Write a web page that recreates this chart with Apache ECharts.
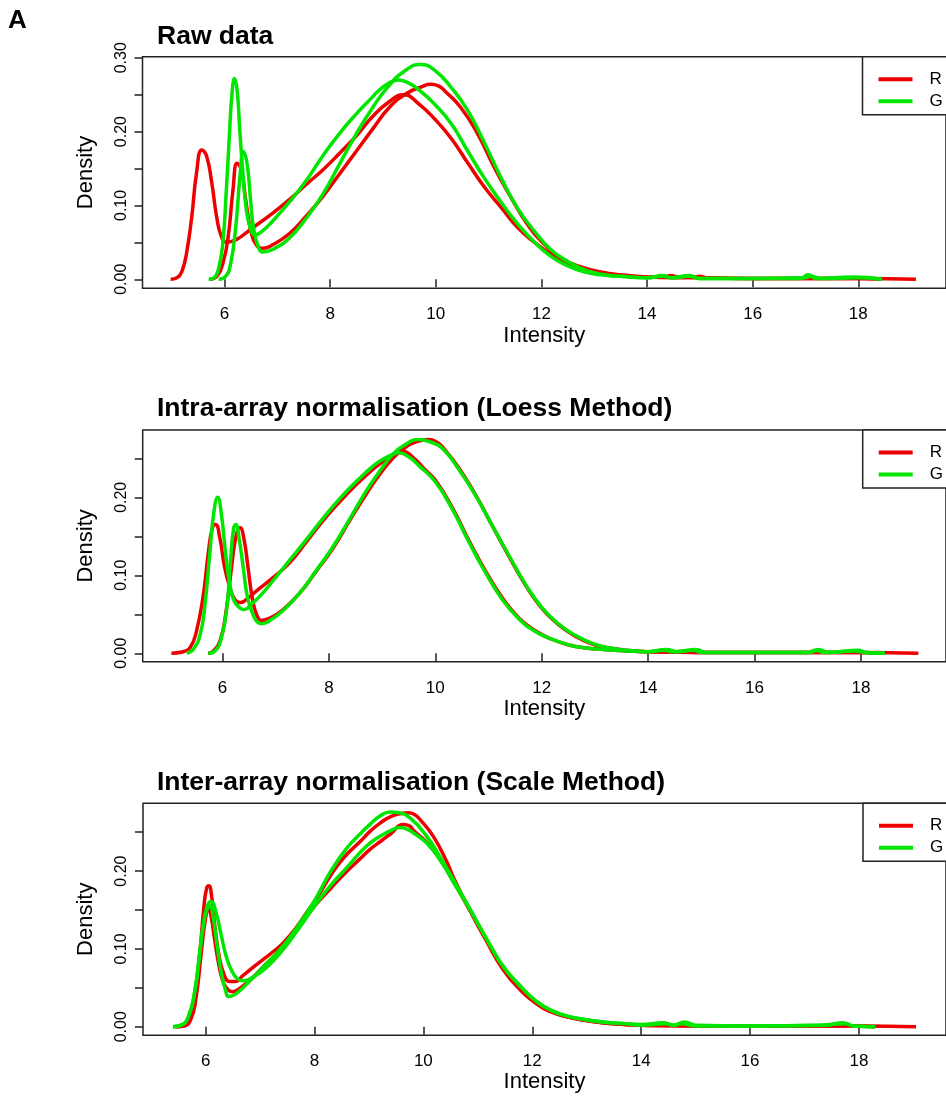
<!DOCTYPE html>
<html>
<head>
<meta charset="UTF-8"/>
<title>Density plots</title>
<script src="https://cdn.jsdelivr.net/npm/echarts@6/dist/echarts.min.js"></script>
<style>
html, body { margin:0; padding:0; background:#fff; }
#main { width:946px; height:1096px; }
</style>
</head>
<body>
<div id="main"></div>
<script type="text/javascript">
// tick positions
var xTicks = [6, 8, 10, 12, 14, 16, 18];
var yTicksRaw = [0, 0.05, 0.10, 0.15, 0.20, 0.25, 0.30];
var yLabelsRaw = [0, 0.10, 0.20, 0.30];
var yTicksNorm = [0, 0.05, 0.10, 0.15, 0.20, 0.25];
var yLabelsNorm = [0, 0.10, 0.20];

// panel 1 - raw data  [intensity, density]
var rawRed1 = [[4.98,0],[5.10,0.002],[5.19,0.010],[5.28,0.035],[5.38,0.085],[5.47,0.144],[5.57,0.175],[5.66,0.167],[5.76,0.130],[5.85,0.085],[5.94,0.058],[6.04,0.050],[6.23,0.054],[6.48,0.067],[6.92,0.090],[7.23,0.108],[7.54,0.128],[7.86,0.148],[8.17,0.170],[8.48,0.193],[8.80,0.220],[9.11,0.240],[9.39,0.250],[9.67,0.238],[9.98,0.217],[10.30,0.190],[10.61,0.157],[10.92,0.125],[11.24,0.097],[11.55,0.070],[11.87,0.050],[12.18,0.034],[12.50,0.022],[12.81,0.014],[13.13,0.009],[13.5,0.005],[14.0,0.003],[14.3,0.003],[14.45,0.005],[14.6,0.003],[14.9,0.003],[15.0,0.004],[15.15,0.002],[16.0,0.001],[17.0,0.001],[18.0,0.001],[18.45,0]];
var rawRed2 = [[5.72,0],[5.85,0.004],[5.97,0.022],[6.07,0.058],[6.16,0.121],[6.24,0.157],[6.32,0.148],[6.41,0.103],[6.51,0.062],[6.60,0.047],[6.72,0.042],[6.92,0.047],[7.23,0.062],[7.54,0.085],[7.86,0.112],[8.17,0.142],[8.48,0.172],[8.80,0.203],[9.11,0.232],[9.43,0.251],[9.74,0.261],[9.90,0.264],[10.05,0.262],[10.17,0.255],[10.48,0.232],[10.80,0.196],[11.11,0.151],[11.43,0.110],[11.74,0.074],[12.06,0.047],[12.37,0.029],[12.69,0.018],[13.13,0.010],[13.5,0.006],[14.0,0.003],[14.5,0.002],[15.0,0.002],[16.0,0.001],[17.0,0.001],[18.0,0.001],[19.09,0]];
var rawGreen1 = [[5.70,0],[5.80,0.002],[5.89,0.015],[5.97,0.051],[6.03,0.115],[6.09,0.192],[6.14,0.250],[6.19,0.272],[6.24,0.255],[6.29,0.201],[6.35,0.142],[6.41,0.096],[6.49,0.069],[6.58,0.060],[6.71,0.065],[6.90,0.078],[7.21,0.103],[7.53,0.132],[7.84,0.165],[8.16,0.196],[8.47,0.222],[8.79,0.246],[8.91,0.255],[9.10,0.265],[9.29,0.270],[9.48,0.266],[9.67,0.257],[9.98,0.237],[10.30,0.210],[10.61,0.173],[10.92,0.137],[11.24,0.104],[11.55,0.075],[11.87,0.050],[12.18,0.031],[12.50,0.018],[12.81,0.010],[13.13,0.006],[13.5,0.004],[14.0,0.002],[14.3,0.005],[14.45,0.002],[14.8,0.005],[15.0,0.001],[16.0,0.001],[16.9,0.001],[17.05,0.006],[17.2,0.001],[17.9,0.003],[18.45,0]];
var rawGreen2 = [[5.89,0],[6.02,0.004],[6.11,0.019],[6.21,0.069],[6.29,0.137],[6.36,0.173],[6.43,0.155],[6.49,0.110],[6.55,0.069],[6.64,0.044],[6.72,0.037],[6.90,0.040],[7.23,0.056],[7.54,0.082],[7.86,0.115],[8.17,0.155],[8.48,0.195],[8.80,0.232],[9.11,0.262],[9.43,0.283],[9.70,0.291],[9.98,0.283],[10.30,0.259],[10.61,0.228],[10.92,0.185],[11.24,0.137],[11.55,0.096],[11.87,0.065],[12.18,0.040],[12.50,0.024],[12.81,0.013],[13.13,0.007],[13.5,0.004],[14.0,0.002],[14.3,0.004],[14.5,0.002],[14.8,0.004],[15.0,0.001],[16.0,0.001],[17.0,0.002],[17.1,0.004],[17.3,0.001],[18.0,0.002],[18.45,0]];

// panel 2 - loess
var loessRed1 = [[5.04,0],[5.26,0.002],[5.39,0.007],[5.51,0.028],[5.64,0.075],[5.73,0.127],[5.81,0.161],[5.87,0.165],[5.95,0.148],[6.04,0.110],[6.14,0.084],[6.23,0.069],[6.33,0.065],[6.45,0.069],[6.64,0.080],[6.95,0.097],[7.26,0.116],[7.58,0.143],[7.89,0.170],[8.20,0.194],[8.51,0.216],[8.83,0.236],[9.0,0.245],[9.2,0.254],[9.38,0.259],[9.6,0.250],[9.8,0.236],[10.0,0.222],[10.31,0.188],[10.63,0.145],[10.94,0.106],[11.25,0.072],[11.56,0.046],[11.88,0.029],[12.19,0.018],[12.5,0.011],[12.8,0.007],[13.13,0.005],[13.6,0.003],[14.0,0.002],[15.0,0.001],[16.0,0.001],[17.0,0.001],[18.0,0.001],[19.08,0]];
var loessRed2 = [[5.73,0],[5.83,0.003],[5.95,0.015],[6.06,0.050],[6.17,0.110],[6.26,0.152],[6.33,0.161],[6.40,0.148],[6.48,0.110],[6.56,0.071],[6.64,0.050],[6.73,0.042],[6.89,0.045],[7.14,0.056],[7.45,0.077],[7.76,0.105],[8.08,0.135],[8.39,0.170],[8.70,0.204],[8.95,0.229],[9.2,0.250],[9.4,0.262],[9.6,0.270],[9.88,0.274],[10.05,0.270],[10.13,0.265],[10.44,0.238],[10.75,0.204],[11.06,0.165],[11.38,0.125],[11.69,0.088],[12.0,0.058],[12.31,0.037],[12.63,0.022],[12.94,0.012],[13.25,0.007],[13.6,0.004],[14.0,0.002],[15.0,0.001],[16.0,0.001],[17.0,0.001],[18.0,0.001],[18.45,0]];
var loessGreen1 = [[5.33,0],[5.45,0.005],[5.58,0.024],[5.67,0.062],[5.76,0.127],[5.84,0.182],[5.91,0.200],[5.98,0.178],[6.06,0.127],[6.14,0.088],[6.22,0.067],[6.33,0.058],[6.42,0.056],[6.54,0.063],[6.70,0.073],[6.95,0.093],[7.26,0.119],[7.58,0.146],[7.89,0.173],[8.20,0.198],[8.51,0.220],[8.83,0.240],[9.0,0.248],[9.2,0.255],[9.31,0.257],[9.5,0.252],[9.7,0.240],[10.0,0.220],[10.31,0.186],[10.63,0.143],[10.94,0.104],[11.25,0.070],[11.56,0.045],[11.88,0.028],[12.19,0.018],[12.5,0.011],[12.8,0.007],[13.13,0.005],[13.6,0.003],[14.0,0.002],[14.35,0.005],[14.55,0.002],[14.9,0.005],[15.1,0.001],[16.0,0.001],[17.05,0.001],[17.2,0.005],[17.4,0.001],[17.95,0.004],[18.1,0.001],[18.45,0]];
var loessGreen2 = [[5.73,0],[5.86,0.003],[5.98,0.020],[6.08,0.058],[6.15,0.118],[6.21,0.161],[6.25,0.165],[6.31,0.148],[6.39,0.110],[6.46,0.075],[6.54,0.056],[6.64,0.041],[6.73,0.038],[6.89,0.042],[7.14,0.055],[7.45,0.077],[7.76,0.106],[8.08,0.137],[8.39,0.172],[8.70,0.208],[8.95,0.233],[9.2,0.255],[9.4,0.266],[9.69,0.274],[9.9,0.271],[10.13,0.263],[10.44,0.236],[10.75,0.203],[11.06,0.165],[11.38,0.126],[11.69,0.089],[12.0,0.059],[12.31,0.038],[12.63,0.023],[12.94,0.013],[13.25,0.007],[13.6,0.004],[14.0,0.002],[14.3,0.004],[14.45,0.002],[14.85,0.004],[15.0,0.001],[16.0,0.001],[17.0,0.001],[17.15,0.004],[17.3,0.001],[17.9,0.003],[18.05,0.001],[18.45,0]];

// panel 3 - scale
var scaleRed1 = [[5.45,0],[5.59,0.001],[5.71,0.009],[5.80,0.034],[5.90,0.099],[5.97,0.155],[6.02,0.178],[6.06,0.181],[6.11,0.168],[6.17,0.129],[6.25,0.090],[6.34,0.067],[6.44,0.058],[6.54,0.058],[6.69,0.066],[6.94,0.080],[7.25,0.097],[7.43,0.108],[7.67,0.128],[7.86,0.147],[8.04,0.165],[8.23,0.187],[8.41,0.206],[8.60,0.222],[8.84,0.238],[9.02,0.251],[9.21,0.262],[9.4,0.270],[9.6,0.274],[9.73,0.275],[9.85,0.272],[9.94,0.266],[10.18,0.245],[10.43,0.212],[10.55,0.192],[10.85,0.150],[11.16,0.110],[11.46,0.074],[11.77,0.048],[12.07,0.030],[12.38,0.018],[12.68,0.012],[12.99,0.008],[13.29,0.005],[13.7,0.003],[14.0,0.002],[15.0,0.001],[16.0,0.001],[17.0,0.001],[18.0,0.001],[19.05,0]];
var scaleRed2 = [[5.45,0],[5.6,0.001],[5.72,0.008],[5.82,0.035],[5.92,0.095],[6.00,0.140],[6.05,0.152],[6.10,0.142],[6.17,0.110],[6.25,0.077],[6.33,0.056],[6.42,0.047],[6.50,0.045],[6.62,0.049],[6.85,0.062],[7.10,0.080],[7.40,0.100],[7.70,0.128],[8.00,0.155],[8.30,0.178],[8.60,0.200],[8.84,0.216],[9.02,0.228],[9.21,0.238],[9.4,0.248],[9.63,0.260],[9.75,0.258],[9.82,0.252],[10.06,0.237],[10.30,0.216],[10.55,0.187],[10.85,0.150],[11.16,0.111],[11.46,0.075],[11.77,0.049],[12.07,0.030],[12.38,0.019],[12.68,0.012],[12.99,0.008],[13.29,0.005],[13.7,0.003],[14.0,0.002],[15.0,0.001],[16.0,0.001],[17.0,0.001],[18.0,0.001],[18.3,0]];
var scaleGreen1 = [[5.40,0],[5.55,0.002],[5.68,0.012],[5.80,0.045],[5.90,0.100],[5.98,0.140],[6.05,0.158],[6.10,0.161],[6.18,0.150],[6.28,0.120],[6.38,0.090],[6.48,0.072],[6.58,0.062],[6.70,0.059],[6.85,0.063],[7.10,0.075],[7.40,0.097],[7.70,0.125],[8.00,0.155],[8.30,0.182],[8.60,0.205],[8.84,0.224],[9.02,0.236],[9.21,0.245],[9.4,0.252],[9.57,0.256],[9.7,0.254],[9.82,0.249],[10.06,0.236],[10.30,0.215],[10.55,0.186],[10.85,0.151],[11.16,0.113],[11.46,0.078],[11.77,0.053],[12.07,0.033],[12.38,0.020],[12.68,0.013],[12.99,0.009],[13.29,0.006],[13.7,0.004],[14.0,0.003],[14.4,0.005],[14.6,0.002],[14.8,0.006],[15.0,0.002],[16.0,0.001],[17.4,0.002],[17.7,0.005],[17.9,0.001],[18.3,0]];
var scaleGreen2 = [[5.40,0],[5.55,0.002],[5.68,0.012],[5.80,0.045],[5.90,0.100],[5.98,0.140],[6.04,0.153],[6.08,0.155],[6.14,0.140],[6.22,0.100],[6.30,0.065],[6.37,0.046],[6.42,0.039],[6.55,0.042],[6.80,0.058],[7.10,0.080],[7.40,0.102],[7.70,0.130],[8.00,0.162],[8.30,0.200],[8.60,0.230],[8.84,0.248],[9.02,0.260],[9.21,0.271],[9.39,0.276],[9.55,0.275],[9.76,0.268],[10.06,0.245],[10.30,0.219],[10.55,0.189],[10.85,0.152],[11.16,0.113],[11.46,0.078],[11.77,0.053],[12.07,0.033],[12.38,0.020],[12.68,0.013],[12.99,0.009],[13.29,0.006],[13.7,0.004],[14.0,0.002],[14.45,0.004],[14.6,0.002],[14.75,0.004],[15.0,0.001],[16.0,0.001],[17.3,0.002],[17.75,0.004],[17.9,0.001],[18.3,0]];

var RED = '#ee0000', GREEN = '#00e600';
var FONT = 'Liberation Sans, Arial, Helvetica, sans-serif';

// plot boxes (pixels) and axis ranges for the three panels
var panels = [
  { left:142.5, top:56.7, width:808.3, height:231.6, xmin:4.447, xmax:19.66, ymin:-0.0122, ymax:0.3014, yt:yTicksRaw, yl:yLabelsRaw, gap:37 },
  { left:142.7, top:430, width:804.9, height:231.7, xmin:4.50, xmax:19.6, ymin:-0.0108, ymax:0.2863, yt:yTicksNorm, yl:yLabelsNorm, gap:34 },
  { left:143, top:803.3, width:805, height:232, xmin:4.85, xmax:19.6, ymin:-0.011, ymax:0.2871, yt:yTicksNorm, yl:yLabelsNorm, gap:32 }
];

var grids = [], xAxes = [], yAxes = [], legends = [];
panels.forEach(function (p, i) {
  grids.push({ left:p.left, top:p.top, width:p.width, height:p.height, show:true,
    borderColor:'#222', borderWidth:1.5, backgroundColor:'transparent' });
  xAxes.push({
    gridIndex:i, type:'value', min:p.xmin, max:p.xmax,
    name:'Intensity', nameLocation:'middle', nameGap:p.gap,
    nameTextStyle:{ fontSize:22, color:'#000', fontFamily:FONT },
    axisLine:{ show:false },
    axisTick:{ show:true, length:8, customValues:xTicks, lineStyle:{ color:'#222', width:1.5 } },
    axisLabel:{ customValues:xTicks, fontSize:17, color:'#000', margin:18, fontFamily:FONT },
    splitLine:{ show:false }
  });
  yAxes.push({
    gridIndex:i, type:'value', min:p.ymin, max:p.ymax,
    name:'Density', nameLocation:'middle', nameGap:46,
    nameTextStyle:{ fontSize:22, color:'#000', fontFamily:FONT },
    axisLine:{ show:false },
    axisTick:{ show:true, length:8, customValues:p.yt, lineStyle:{ color:'#222', width:1.5 } },
    axisLabel:{ customValues:p.yl, rotate:90, fontSize:16, color:'#000', margin:13, fontFamily:FONT,
      formatter:function (v) { return Number(v).toFixed(2); } },
    splitLine:{ show:false }
  });
  legends.push({
    data:['R', 'G'], orient:'vertical', left:p.left + 720, top:p.top,
    icon:'rect', itemWidth:34, itemHeight:4, itemGap:5,
    padding:[14, 40, 5, 16], borderColor:'#222', borderWidth:1.5, backgroundColor:'#fff',
    selectedMode:false,
    textStyle:{ fontSize:17, color:'#000', fontFamily:FONT, padding:[0, 0, 0, 12] }
  });
});

function curve(name, color, data, idx) {
  return { type:'line', name:name, data:data, xAxisIndex:idx, yAxisIndex:idx,
    symbol:'none', smooth:0.5, color:color,
    lineStyle:{ width:3.5, color:color }, silent:true, z: name == 'G' ? 3 : 2 };
}

var series = [
  curve('R', RED, rawRed1, 0), curve('R', RED, rawRed2, 0),
  curve('G', GREEN, rawGreen1, 0), curve('G', GREEN, rawGreen2, 0),
  curve('R', RED, loessRed1, 1), curve('R', RED, loessRed2, 1),
  curve('G', GREEN, loessGreen1, 1), curve('G', GREEN, loessGreen2, 1),
  curve('R', RED, scaleRed1, 2), curve('R', RED, scaleRed2, 2),
  curve('G', GREEN, scaleGreen1, 2), curve('G', GREEN, scaleGreen2, 2)
];

var myChart = echarts.init(document.getElementById('main'));
var option = {
  animation:false,
  textStyle:{ fontFamily:FONT },
  title:[
    { text:'A', left:8, top:8, padding:0, textStyle:{ fontSize:26, fontWeight:'bold', color:'#000', fontFamily:FONT } },
    { text:'Raw data', left:157, top:23.5, padding:0, textStyle:{ fontSize:26.5, fontWeight:'bold', color:'#000', fontFamily:FONT } },
    { text:'Intra-array normalisation (Loess Method)', left:157, top:395, padding:0, textStyle:{ fontSize:26.5, fontWeight:'bold', color:'#000', fontFamily:FONT } },
    { text:'Inter-array normalisation (Scale Method)', left:157, top:769, padding:0, textStyle:{ fontSize:26.5, fontWeight:'bold', color:'#000', fontFamily:FONT } }
  ],
  legend:legends,
  grid:grids,
  xAxis:xAxes,
  yAxis:yAxes,
  series:series
};
myChart.setOption(option);
</script>
</body>
</html>
